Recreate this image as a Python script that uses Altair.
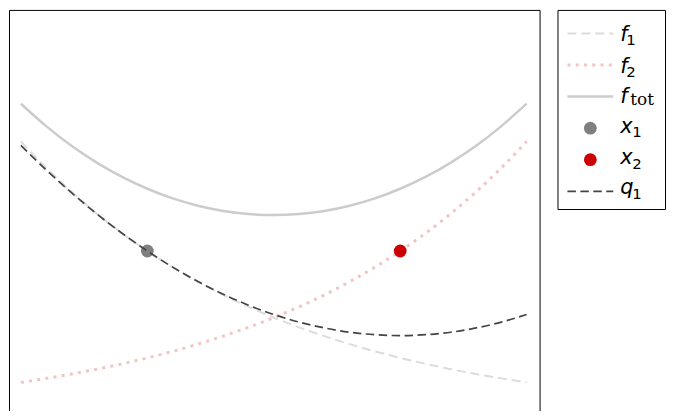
import altair as alt
import pandas as pd

# ---- data ----
xs = [-1.0, -0.9, -0.8, -0.7, -0.6, -0.5, -0.4, -0.3, -0.2, -0.1, 0.0,
      0.1, 0.2, 0.3, 0.4, 0.5, 0.6, 0.7, 0.8, 0.9, 1.0]
f1 = [2.718, 2.460, 2.226, 2.014, 1.822, 1.649, 1.492, 1.350, 1.221, 1.105, 1.000,
      0.905, 0.819, 0.741, 0.670, 0.607, 0.549, 0.497, 0.449, 0.407, 0.368]
f2 = [0.368, 0.407, 0.449, 0.497, 0.549, 0.607, 0.670, 0.741, 0.819, 0.905, 1.000,
      1.105, 1.221, 1.350, 1.492, 1.649, 1.822, 2.014, 2.226, 2.460, 2.718]
ftot = [3.086, 2.867, 2.675, 2.511, 2.371, 2.256, 2.162, 2.091, 2.040, 2.010, 2.000,
        2.010, 2.040, 2.091, 2.162, 2.256, 2.371, 2.511, 2.675, 2.867, 3.086]
q1 = [2.679, 2.440, 2.218, 2.011, 1.822, 1.649, 1.492, 1.352, 1.228, 1.121, 1.030,
      0.956, 0.899, 0.857, 0.833, 0.824, 0.833, 0.857, 0.899, 0.956, 1.030]
pt_names = ["x1", "x2"]
pt_x = [-0.5, 0.5]
pt_y = [1.649, 1.649]

leg_keys = ["f1", "f2", "ftot", "x1", "x2", "q1"]
leg_main = ["f", "f", "f", "x", "x", "q"]
leg_sub = ["1", "2", "tot", "1", "2", "1"]

# ---- tables ----
rows = []
for name, vals in [("f1", f1), ("f2", f2), ("ftot", ftot), ("q1", q1)]:
    for xv, yv in zip(xs, vals):
        rows.append({"s": name, "x": xv, "y": yv})
lines_df = pd.DataFrame(rows)
pts_df = pd.DataFrame({"s": pt_names, "x": pt_x, "y": pt_y})
leg_df = pd.DataFrame({"key": leg_keys, "main": leg_main, "sub": leg_sub,
                       "row": list(range(len(leg_keys)))})

STY = {
    "f1": dict(color="#dcdcdc", strokeDash=[9, 5], strokeWidth=2),
    "f2": dict(color="#f2c4c4", strokeDash=[3, 5.3], strokeWidth=3),
    "ftot": dict(color="#cccccc", strokeWidth=2.5),
    "q1": dict(color="#444444", strokeDash=[8.5, 4.5], strokeWidth=1.7),
}
PT_COL = {"x1": "#808080", "x2": "#cc0000"}

xsc = alt.Scale(domain=[-1.047, 1.051], nice=False, zero=False)
ysc = alt.Scale(domain=[0.03, 4.0], nice=False, zero=False)

base = alt.Chart(lines_df).encode(
    x=alt.X("x:Q", scale=xsc, axis=None),
    y=alt.Y("y:Q", scale=ysc, axis=None),
)
pbase = alt.Chart(pts_df).encode(
    x=alt.X("x:Q", scale=xsc, axis=None),
    y=alt.Y("y:Q", scale=ysc, axis=None),
)

def line_layer(name):
    return base.transform_filter(f"datum.s == '{name}'").mark_line(
        interpolate="monotone", **STY[name])

def pt_layer(name):
    return pbase.transform_filter(f"datum.s == '{name}'").mark_circle(
        size=165, opacity=1, color=PT_COL[name])

main = alt.layer(
    line_layer("f1"), line_layer("f2"), line_layer("ftot"),
    pt_layer("x1"), pt_layer("x2"), line_layer("q1"),
).properties(width=533, height=409)

# ---- legend panel ----
STEP = 31.7
lsc = alt.Scale(domain=[-0.7476, -0.7476 + 200 / STEP], nice=False, zero=False, reverse=True)
lbase = alt.Chart(leg_df)

def leg_line(name):
    return lbase.transform_filter(f"datum.key == '{name}'").mark_rule(**STY[name]).encode(
        x=alt.value(10), x2=alt.value(56),
        y=alt.Y("row:Q", scale=lsc, axis=None))

def leg_pt(name):
    return lbase.transform_filter(f"datum.key == '{name}'").mark_circle(
        size=165, opacity=1, color=PT_COL[name]).encode(
        x=alt.value(33), y=alt.Y("row:Q", scale=lsc, axis=None))

main_txt = lbase.transform_calculate(
    ty=f"datum.row + (datum.main == 'f' ? (datum.sub == 'tot' ? 6.5 : 7.5) : (datum.main == 'x' ? 4.5 : 3)) / {STEP}"
).mark_text(font="DejaVu Sans", fontStyle="italic", fontSize=21, align="left",
            baseline="alphabetic", color="black").encode(
    x=alt.value(63), y=alt.Y("ty:Q", scale=lsc, axis=None), text="main:N")

sub_num = lbase.transform_filter("datum.sub != 'tot'").transform_calculate(
    ty=f"datum.row + (datum.main == 'f' ? 11.5 : (datum.main == 'x' ? 9 : 7.5)) / {STEP}",
    tx="datum.main == 'f' ? 69 : 75"
).mark_text(font="DejaVu Sans", fontSize=15, align="left",
            baseline="alphabetic", color="black").encode(
    x=alt.X("tx:Q", scale=None), y=alt.Y("ty:Q", scale=lsc, axis=None), text="sub:N")

sub_tot = lbase.transform_filter("datum.sub == 'tot'").transform_calculate(
    ty=f"datum.row + 8 / {STEP}"
).mark_text(font="DejaVu Serif", fontSize=17, align="left",
            baseline="alphabetic", color="black").encode(
    x=alt.value(73), y=alt.Y("ty:Q", scale=lsc, axis=None), text="sub:N")

legend = alt.layer(
    leg_line("f1"), leg_line("f2"), leg_line("ftot"),
    leg_pt("x1"), leg_pt("x2"), leg_line("q1"),
    main_txt, sub_num, sub_tot,
).properties(width=108, height=200)

chart = alt.hconcat(main, legend, spacing=16).properties(
    padding={"left": 0, "top": 0, "right": 0, "bottom": -8}, background="white"
).configure_view(stroke="black", strokeWidth=1).configure_concat(spacing=16)

chart.save("out.html", embed_options={"renderer": "svg", "actions": False})
